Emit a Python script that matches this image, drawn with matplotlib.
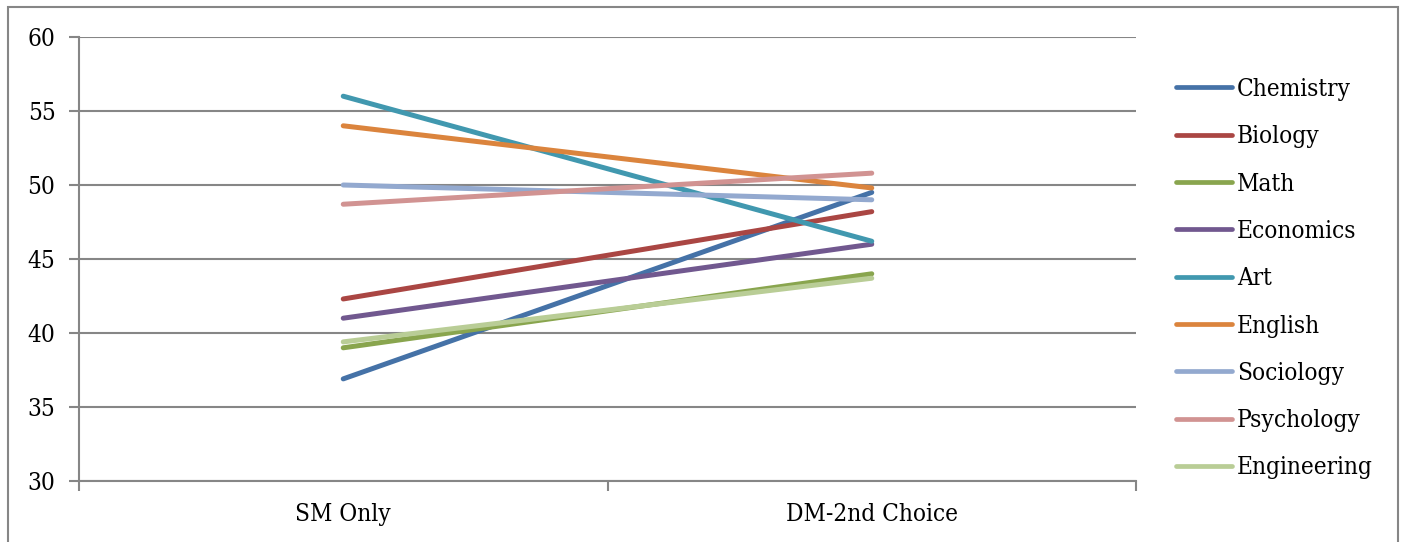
import matplotlib.pyplot as plt
from matplotlib.patches import Rectangle

# Mean scores by major, for the two choice groups
groups = ['SM Only', 'DM-2nd Choice']
majors = ['Chemistry', 'Biology', 'Math', 'Economics', 'Art',
          'English', 'Sociology', 'Psychology', 'Engineering']
sm_only = [36.9, 42.3, 39.0, 41.0, 56.0, 54.0, 50.0, 48.7, 39.4]
dm_second = [49.5, 48.2, 44.0, 46.0, 46.2, 49.8, 49.0, 50.8, 43.7]
colors = ['#4572A7', '#AA4643', '#89A54E', '#71588F', '#4198AF',
          '#DB843D', '#93A9CF', '#D19392', '#B9CD96']

plt.rcParams['font.family'] = ['DejaVu Serif']
plt.rcParams['font.stretch'] = 'condensed'
fsize = 17.5

fig = plt.figure(figsize=(14.06, 5.42), dpi=100)
ax = fig.add_axes([79 / 1406, 1 - 481 / 542, (1136 - 79) / 1406, (481 - 37) / 542])

x = range(len(groups))
for name, a, b, c in zip(majors, sm_only, dm_second, colors):
    ax.plot(x, [a, b], color=c, lw=3.6, solid_capstyle='round', label=name)

ax.set_ylim(30, 60)
ax.set_yticks(range(30, 61, 5))
ax.set_xlim(-0.5, len(groups) - 0.5)
ax.set_xticks(list(x))
ax.set_xticklabels(groups)
ax.set_xticks([i - 0.5 for i in range(len(groups) + 1)], minor=True)

ax.yaxis.grid(True, color='#868686', lw=1.5)
ax.set_axisbelow(True)
for s in ['top', 'right']:
    ax.spines[s].set_visible(False)
for s in ['left', 'bottom']:
    ax.spines[s].set_color('#868686')
    ax.spines[s].set_linewidth(1.5)

ax.tick_params(axis='y', length=7, width=1.5, color='#868686', pad=10, labelsize=fsize)
ax.tick_params(axis='x', which='major', length=0, pad=16, labelsize=fsize)
ax.tick_params(axis='x', which='minor', length=7, width=1.5, color='#868686')

leg = ax.legend(loc='upper left', bbox_to_anchor=(1176 / 1406, 1 - 78 / 542),
                bbox_transform=fig.transFigure, frameon=False, fontsize=fsize,
                handlelength=2.3, handletextpad=0.2, labelspacing=1.0,
                borderaxespad=0, borderpad=0)
for line in leg.get_lines():
    line.set_linewidth(3.4)

# outer chart border
fig.patches.append(Rectangle((8 / 1406, -0.02), (1398 - 8) / 1406, 1 - 7 / 542 + 0.02,
                             transform=fig.transFigure, fill=False,
                             edgecolor='#868686', lw=1.5))

fig.savefig('out.png', dpi=100)
